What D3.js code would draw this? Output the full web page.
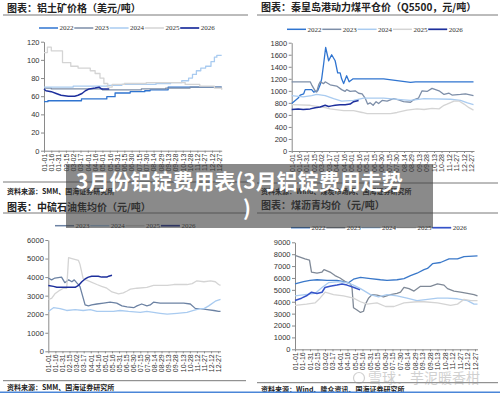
<!DOCTYPE html>
<html>
<head>
<meta charset="utf-8">
<script src="https://cdn.jsdelivr.net/npm/d3@7"></script>
<style>
  body { margin: 0; background: #fff; }
  svg { display: block; }
</style>
</head>
<body>
<svg id="chart" width="500" height="393"></svg>
<script>
// x values are day of year (0 = 01-01)
const dateTicks = ['01-01','01-16','01-31','02-15','03-02','03-17','04-01','04-16','05-01','05-16','05-31','06-15','06-30',
  '07-15','07-30','08-14','08-29','09-13','09-28','10-13','10-28','11-12','11-27','12-12','12-27']

// 铝土矿价格 (美元/吨)
const bauxite2022 = [[0,54],[8,55],[77,57],[129,59.5],[146,63.5],[177,65],[207,66],[218,67],[255,70],[365,70]]
const bauxite2023 = [[0,69],[15,68],[120,67],[200,68],[250,69],[300,70],[365,70]]
const bauxite2024 = [[0,70],[60,71],[130,72],[160,73],[230,74],[260,75],[283,77],[297,80],[305,84],[313,88],[322,91],[332,93],[343,98],[350,103],[355,105],[365,105]]
const bauxite2025 = [[0,108],[7,114],[15,110],[38,97],[55,93],[70,91],[95,88],[105,85],[115,80],[123,74],[131,70],[140,73],[165,74],[210,75],[275,75],[290,73],[320,71],[350,69],[365,67]]
const bauxite2026 = [[0,68],[4,66],[15,65],[25,63],[35,61],[50,60],[63,60],[70,61],[78,63],[85,66],[93,68],[105,69],[113,70],[118,68],[126,68],[134,68]]

// 秦皇岛港动力煤平仓价 (元/吨)
const coal2022 = [[0,790],[13,880],[17,930],[24,950],[27,1020],[40,1020],[44,980],[52,1000],[57,1100],[60,1200],[64,1450],[68,1720],[74,1500],[80,1600],[87,1500],[92,1300],[97,1300],[100,1200],[104,1120],[110,1250],[115,1150],[123,1200],[184,1200],[211,1170],[238,1140],[248,1150],[364,1150]]
const coal2023 = [[0,1150],[37,1150],[40,1100],[47,1000],[50,980],[54,1100],[57,1150],[64,1120],[67,1150],[77,1100],[90,1080],[100,1020],[107,990],[110,1020],[117,990],[127,1000],[134,960],[141,950],[147,880],[152,780],[157,800],[163,760],[169,820],[174,790],[181,840],[191,830],[204,870],[214,850],[224,820],[238,810],[244,850],[254,880],[261,1000],[271,990],[281,1040],[295,1000],[305,940],[315,960],[321,930],[338,940],[348,950],[364,920]]
const coal2024 = [[0,920],[23,900],[40,920],[50,940],[67,920],[84,870],[100,830],[124,840],[144,880],[184,880],[224,850],[238,840],[265,870],[318,860],[338,840],[352,800],[364,770]]
const coal2025 = [[0,770],[37,760],[67,720],[77,700],[104,670],[124,670],[141,640],[151,620],[198,620],[211,640],[231,680],[251,700],[265,690],[281,710],[295,700],[305,760],[311,780],[325,830],[335,830],[345,780],[355,720],[364,680]]
const coal2026 = [[0,690],[13,700],[23,690],[37,700],[47,720],[57,730],[67,760],[74,740],[80,750],[87,760],[97,770],[107,770],[117,780],[124,820],[134,840]]

// 中硫石油焦均价 (元/吨)
const coke2023 = [[0,3950],[7,3850],[14,3950],[28,4000],[35,3700],[43,3850],[50,3750],[55,3850],[60,3700],[67,3500],[78,2500],[85,2450],[92,2500],[103,2550],[117,2600],[131,2650],[145,2600],[156,2450],[167,2400],[181,2350],[188,2450],[198,2550],[209,2450],[216,2500],[223,2650],[237,2600],[287,2600],[301,2550],[312,2300],[322,2300],[337,2250],[351,2200],[361,2150],[365,2150]]
const coke2024 = [[0,2150],[11,2350],[25,2300],[39,2200],[57,2250],[74,2200],[89,2250],[103,2150],[138,2150],[152,2200],[170,2150],[195,2100],[209,2150],[237,2050],[252,2000],[273,2050],[294,2100],[308,2200],[322,2300],[330,2300],[340,2450],[354,2700],[365,2800]]
const coke2025 = [[0,2800],[7,2850],[14,3100],[25,3300],[32,3400],[39,3400],[43,5050],[50,5000],[64,4900],[67,4700],[74,3900],[85,3800],[103,3600],[113,3500],[124,3400],[135,3200],[149,3100],[159,3150],[167,3250],[174,3350],[188,3400],[209,3450],[223,3550],[252,3550],[266,3600],[294,3600],[305,3650],[315,3800],[330,3750],[344,3800],[354,3750],[361,3600],[365,3550]]
const coke2026 = [[0,3550],[11,3500],[18,3450],[57,3450],[64,3550],[71,3750],[78,3900],[85,4000],[92,4050],[106,4050],[113,4000],[124,4000],[128,4050],[135,4100]]

// 煤沥青均价 (元/吨)
const pitch2022 = [[0,5500],[17,5700],[30,5800],[44,5850],[64,5800],[84,5800],[97,5700],[107,5600],[117,5900],[131,6050],[151,5950],[171,5850],[184,5800],[204,5850],[218,5950],[231,6200],[244,6400],[258,6700],[265,6800],[275,7200],[291,7300],[308,7600],[325,7600],[338,7800],[365,7850]]
const pitch2023 = [[0,7900],[20,7600],[29,7500],[33,6500],[44,6400],[54,6500],[58,6700],[70,6500],[80,6200],[90,6000],[104,5600],[111,5500],[114,5200],[117,3500],[124,3300],[131,3100],[137,3200],[141,3800],[147,4300],[154,4600],[164,4550],[177,4400],[191,4600],[204,4700],[211,4800],[218,5200],[228,5100],[238,4900],[251,5300],[271,5300],[285,5500],[298,5400],[305,5100],[318,4900],[331,4800],[345,4700],[358,4600],[365,4500]]
const pitch2024 = [[0,4500],[20,4600],[40,4700],[54,5200],[67,5600],[87,5700],[104,5600],[117,5400],[131,5100],[151,4600],[167,4400],[184,4600],[204,4500],[224,4300],[244,4100],[265,4200],[285,4300],[305,4300],[325,4250],[345,4100],[358,3800],[365,3800]]
const pitch2025 = [[0,3700],[23,3800],[40,3900],[50,4300],[60,4800],[77,4600],[97,4500],[117,4300],[131,4000],[144,3800],[164,3900],[181,3600],[198,3600],[218,3900],[244,4000],[258,4000],[285,3900],[311,3700],[325,3800],[338,4200],[352,4100],[365,4100]]
const pitch2026 = [[0,4100],[13,4300],[23,4500],[33,4800],[44,4700],[54,4800],[60,5200],[70,5300],[84,5400],[94,5500],[104,5400],[118,5200],[130,5000]]

const C = { y22: '#2f74d0', y23: '#7d8ea8', y24: '#a9cbf0', y25: '#d4d4d4', y26: '#1d2f9c' }

const panels = [
  {
    title: '图表：铝土矿价格（美元/吨）', source: '资料来源：SMM、国海证券研究所',
    left: 7, right: 247, titleY: 11.5, sepY: 15, srcLineY: 182, srcY: 193.5,
    x0: 44, x1: 221.7, yTop: 41.7, yBottom: 150.7, yMax: 120, yStep: 20,
    legendX: 39, legendY: 28, step: true,
    series: [
      { name: '2022', data: bauxite2022, color: C.y22, w: 1.3 },
      { name: '2023', data: bauxite2023, color: C.y23, w: 1.3 },
      { name: '2024', data: bauxite2024, color: C.y24, w: 1.3 },
      { name: '2025', data: bauxite2025, color: C.y25, w: 1.3 },
      { name: '2026', data: bauxite2026, color: C.y26, w: 1.5, linear: true }
    ]
  },
  {
    title: '图表：秦皇岛港动力煤平仓价（Q5500，元/吨）', source: '资料来源：Wind、煤炭市场网、国海证券研究所',
    left: 261, right: 497, titleY: 10.5, sepY: 15, srcLineY: 183, srcY: 194,
    x0: 291.7, x1: 474, yTop: 42.7, yBottom: 151, yMax: 1800, yStep: 200,
    legendX: 287, legendY: 29.3,
    series: [
      { name: '2022', data: coal2022, color: C.y22, w: 1.3 },
      { name: '2023', data: coal2023, color: C.y23, w: 1.3 },
      { name: '2024', data: coal2024, color: C.y24, w: 1.3 },
      { name: '2025', data: coal2025, color: C.y25, w: 1.3 },
      { name: '2026', data: coal2026, color: C.y26, w: 1.5 }
    ]
  },
  {
    title: '图表：中硫石油焦均价（元/吨）', source: '资料来源：SMM、国海证券研究所',
    left: 7, right: 245, titleY: 210.5, sepY: 213, srcLineY: 380.7, srcY: 390,
    x0: 48.3, x1: 220.5, yTop: 240, yBottom: 351.3, yMax: 6000, yStep: 1000,
    legendX: 55, legendY: 225.7,
    series: [
      { name: '2023', data: coke2023, color: '#6c82a3', w: 1.3 },
      { name: '2024', data: coke2024, color: C.y24, w: 1.3 },
      { name: '2025', data: coke2025, color: C.y25, w: 1.3 },
      { name: '2026', data: coke2026, color: C.y26, w: 1.5 }
    ]
  },
  {
    title: '图表：煤沥青均价（元/吨）', source: '资料来源：Wind、隆众资讯、国海证券研究所',
    left: 261, right: 497, titleY: 208.5, sepY: 213, srcLineY: 382.7, srcY: 391.5,
    x0: 295, x1: 477.5, yTop: 242.3, yBottom: 349.3, yMax: 9000, yStep: 1000,
    legendX: 291, legendY: 227.7,
    series: [
      { name: '2022', data: pitch2022, color: '#3a78c9', w: 1.3 },
      { name: '2023', data: pitch2023, color: '#7f8997', w: 1.3 },
      { name: '2024', data: pitch2024, color: C.y24, w: 1.3 },
      { name: '2025', data: pitch2025, color: C.y25, w: 1.3 },
      { name: '2026', data: pitch2026, color: '#3553c9', w: 1.5 }
    ]
  }
]

const svg = d3.select('#chart')
svg.append('rect').attr('width', 500).attr('height', 393).attr('fill', '#fff')

const cjk = '"Noto Sans CJK SC", "Noto Sans", sans-serif'

panels.forEach((p) => {
  const g = svg.append('g')

  // header + footer
  g.append('text')
    .attr('x', p.left).attr('y', p.titleY)
    .attr('font-family', cjk).attr('font-weight', 'bold').attr('font-size', 10)
    .attr('fill', '#222').text(p.title)
  g.append('line')
    .attr('x1', p.left - 4).attr('x2', p.right + 1).attr('y1', p.sepY).attr('y2', p.sepY)
    .attr('stroke', '#555').attr('stroke-width', 0.8)
  g.append('line')
    .attr('x1', p.left - 4).attr('x2', p.right + 1).attr('y1', p.srcLineY).attr('y2', p.srcLineY)
    .attr('stroke', '#555').attr('stroke-width', 0.8)
  g.append('text')
    .attr('x', p.left).attr('y', p.srcY)
    .attr('font-family', cjk).attr('font-weight', 'bold').attr('font-size', 7)
    .attr('fill', '#222').text(p.source)

  const x = d3.scaleLinear().domain([0, 365]).range([p.x0, p.x1])
  const y = d3.scaleLinear().domain([0, p.yMax]).range([p.yBottom, p.yTop])

  // y axis
  const yAxis = g.append('g')
    .attr('transform', `translate(${p.x0},0)`)
    .call(d3.axisLeft(y).tickValues(d3.range(0, p.yMax + 1, p.yStep)).tickFormat(d3.format('d'))
      .tickSize(3).tickSizeOuter(0).tickPadding(1.5))
  yAxis.select('.domain').attr('stroke', '#8a8a8a')
  yAxis.selectAll('.tick line').attr('stroke', '#8a8a8a')
  yAxis.selectAll('.tick text')
    .attr('font-family', 'Arial, "Liberation Sans", sans-serif').attr('font-size', 7.5).attr('fill', '#333')

  // x axis
  const xAxis = g.append('g')
    .attr('transform', `translate(0,${p.yBottom})`)
    .call(d3.axisBottom(x).tickValues(dateTicks.map((d, i) => i * 15)).tickFormat((d, i) => dateTicks[i]).tickSize(2).tickSizeOuter(0))
  xAxis.select('.domain').attr('stroke', '#8a8a8a')
  xAxis.selectAll('.tick line').attr('stroke', '#8a8a8a')
  xAxis.selectAll('.tick text')
    .attr('font-family', 'Arial, "Liberation Sans", sans-serif').attr('font-size', 7).attr('fill', '#333')
    .attr('transform', 'rotate(-90)').attr('x', -3).attr('y', 0).attr('dy', '0.33em')
    .style('text-anchor', 'end')

  // lines
  p.series.forEach((s) => {
    const line = d3.line()
      .x((d) => x(d[0]))
      .y((d) => y(d[1]))
      .curve(p.step && !s.linear ? d3.curveStepAfter : d3.curveLinear)
    g.append('path')
      .attr('d', line(s.data))
      .attr('fill', 'none')
      .attr('stroke', s.color)
      .attr('stroke-width', s.w)
      .attr('stroke-linejoin', 'round')
  })

  // legend
  const lg = g.append('g').attr('transform', `translate(${p.legendX},${p.legendY})`)
  p.series.forEach((s, i) => {
    const it = lg.append('g').attr('transform', `translate(${i * 35.3},0)`)
    it.append('line').attr('x1', 0).attr('x2', 19).attr('stroke', s.color).attr('stroke-width', s.w + 0.2)
    it.append('text').attr('x', 20.5).attr('dy', '0.35em')
      .attr('font-family', '"Liberation Serif", "Times New Roman", serif').attr('font-size', 7)
      .attr('fill', '#333').text(s.name)
  })
})

// watermark
const wm = svg.append('g').attr('opacity', 0.45)
wm.append('circle').attr('cx', 359).attr('cy', 378).attr('r', 5.5).attr('fill', 'none').attr('stroke', '#999').attr('stroke-width', 1.2)
wm.append('text').attr('x', 368).attr('y', 383)
  .attr('font-family', cjk).attr('font-size', 14).attr('fill', '#999').text('雪球：芋泥暖香柑')

// bottom rule
svg.append('rect').attr('x', 0).attr('y', 391.5).attr('width', 500).attr('height', 1.5).attr('fill', '#4a86d8')

// overlay banner
svg.append('rect').attr('x', 66).attr('y', 164).attr('width', 367).attr('height', 64)
  .attr('fill', 'rgba(60,60,60,0.6)')
svg.append('text').attr('x', 76).attr('y', 189)
  .attr('font-family', cjk).attr('font-weight', 'bold').attr('font-size', 21)
  .attr('fill', '#fff').text('3月份铝锭费用表(3月铝锭费用走势')
svg.append('text').attr('x', 247).attr('y', 216).attr('text-anchor', 'middle')
  .attr('font-family', cjk).attr('font-weight', 'bold').attr('font-size', 21)
  .attr('fill', '#fff').text(')')
</script>
</body>
</html>
